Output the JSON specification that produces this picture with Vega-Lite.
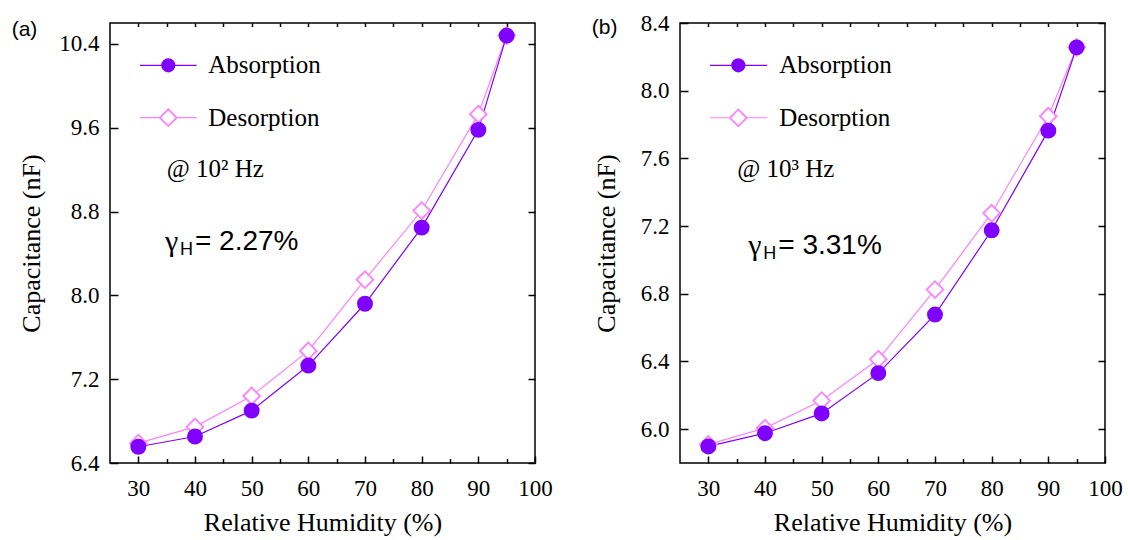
{
  "$schema": "https://vega.github.io/schema/vega-lite/v6.json",
  "background": "white",
  "padding": {"left": 10, "top": 11, "right": 5, "bottom": 5},
  "bounds": "flush",
  "spacing": 145,
  "config": {
    "view": {"stroke": "black", "strokeWidth": 1.5}
  },
  "datasets": {
    "a": [
      {"series": "Desorption", "rh": 30, "c": 6.59},
      {"series": "Desorption", "rh": 40, "c": 6.745},
      {"series": "Desorption", "rh": 50, "c": 7.04},
      {"series": "Desorption", "rh": 60, "c": 7.47},
      {"series": "Desorption", "rh": 70, "c": 8.15},
      {"series": "Desorption", "rh": 80, "c": 8.81},
      {"series": "Desorption", "rh": 90, "c": 9.73},
      {"series": "Desorption", "rh": 95, "c": 10.48},
      {"series": "Absorption", "rh": 30, "c": 6.555},
      {"series": "Absorption", "rh": 40, "c": 6.653},
      {"series": "Absorption", "rh": 50, "c": 6.9},
      {"series": "Absorption", "rh": 60, "c": 7.33},
      {"series": "Absorption", "rh": 70, "c": 7.92},
      {"series": "Absorption", "rh": 80, "c": 8.647},
      {"series": "Absorption", "rh": 90, "c": 9.58},
      {"series": "Absorption", "rh": 95, "c": 10.48}
    ],
    "b": [
      {"series": "Desorption", "rh": 30, "c": 5.91},
      {"series": "Desorption", "rh": 40, "c": 6.006},
      {"series": "Desorption", "rh": 50, "c": 6.169},
      {"series": "Desorption", "rh": 60, "c": 6.413},
      {"series": "Desorption", "rh": 70, "c": 6.825},
      {"series": "Desorption", "rh": 80, "c": 7.276},
      {"series": "Desorption", "rh": 90, "c": 7.849},
      {"series": "Desorption", "rh": 95, "c": 8.256},
      {"series": "Absorption", "rh": 30, "c": 5.898},
      {"series": "Absorption", "rh": 40, "c": 5.976},
      {"series": "Absorption", "rh": 50, "c": 6.093},
      {"series": "Absorption", "rh": 60, "c": 6.331},
      {"series": "Absorption", "rh": 70, "c": 6.677},
      {"series": "Absorption", "rh": 80, "c": 7.175},
      {"series": "Absorption", "rh": 90, "c": 7.764},
      {"series": "Absorption", "rh": 95, "c": 8.256}
    ]
  },
  "hconcat": [
    {
      "width": 425,
      "height": 440,
      "data": {"name": "a"},
      "resolve": {"axis": {"x": "independent", "y": "independent"}},
      "layer": [
        {
          "mark": {"type": "line", "strokeWidth": 1.2},
          "encoding": {
            "x": {"field": "rh", "type": "quantitative", "scale": {"domain": [25, 100], "nice": false, "zero": false},
              "axis": {"orient": "bottom", "values": [30, 40, 50, 60, 70, 80, 90, 100], "domain": false, "grid": false, "tickSize": -7, "tickWidth": 1.5, "tickColor": "black", "labelPadding": 21, "labelFont": "serif", "labelFontSize": 23, "labelColor": "black", "labelFlush": false, "labelOverlap": false, "title": "Relative Humidity (%)", "titleFont": "serif", "titleFontSize": 26, "titleFontWeight": "normal", "titleColor": "black", "titlePadding": 9}},
            "y": {"field": "c", "type": "quantitative", "scale": {"domain": [6.4, 10.6], "nice": false, "zero": false},
              "axis": {"orient": "left", "values": [6.4, 7.2, 8.0, 8.8, 9.6, 10.4], "format": ".1f", "domain": false, "grid": false, "tickSize": -8, "tickWidth": 1.5, "tickColor": "black", "labelPadding": 19, "labelFont": "serif", "labelFontSize": 23, "labelColor": "black", "labelFlush": false, "labelOverlap": false, "title": "Capacitance (nF)", "titleFont": "serif", "titleFontSize": 26, "titleFontWeight": "normal", "titleColor": "black", "titlePadding": 14}},
            "color": {"field": "series", "type": "nominal", "scale": {"domain": ["Absorption", "Desorption"], "range": ["#8000ff", "#ff80ff"]}, "legend": null}
          }
        },
        {
          "mark": {"type": "point", "strokeWidth": 1.8, "opacity": 1},
          "encoding": {
            "x": {"field": "rh", "type": "quantitative", "axis": {"orient": "bottom", "values": [35, 45, 55, 65, 75, 85, 95], "domain": false, "grid": false, "tickSize": -4.5, "tickWidth": 1.5, "tickColor": "black", "labels": false, "title": null}},
            "y": {"field": "c", "type": "quantitative", "axis": {"orient": "right", "values": [6.4, 7.2, 8.0, 8.8, 9.6, 10.4], "domain": false, "grid": false, "tickSize": -7, "tickWidth": 1.5, "tickColor": "black", "labels": false, "title": null}},
            "shape": {"field": "series", "type": "nominal", "scale": {"domain": ["Absorption", "Desorption"], "range": ["circle", "diamond"]}, "legend": null},
            "fill": {"field": "series", "type": "nominal", "scale": {"domain": ["Absorption", "Desorption"], "range": ["#8000ff", "#ffffff"]}, "legend": null},
            "stroke": {"field": "series", "type": "nominal", "scale": {"domain": ["Absorption", "Desorption"], "range": ["#8000ff", "#ff80ff"]}, "legend": null},
            "size": {"field": "series", "type": "nominal", "scale": {"domain": ["Absorption", "Desorption"], "range": [200, 280]}, "legend": null}
          }
        },
        {
          "data": {"values": [{}]},
          "mark": {"type": "rule", "color": "#8000ff", "strokeWidth": 1.2},
          "encoding": {
            "x": {"datum": 30.29, "type": "quantitative", "axis": {"orient": "top", "values": [30, 35, 40, 45, 50, 55, 60, 65, 70, 75, 80, 85, 90, 95], "domain": false, "grid": false, "tickSize": -3.5, "tickWidth": 1.5, "tickColor": "black", "labels": false, "title": null}},
            "x2": {"datum": 40.3},
            "y": {"datum": 10.196, "type": "quantitative", "axis": null}
          }
        },
        {
          "data": {"values": [{}]},
          "mark": {"type": "rule", "color": "#ff80ff", "strokeWidth": 1.2},
          "encoding": {
            "x": {"datum": 30.29, "type": "quantitative", "axis": null},
            "x2": {"datum": 40.3},
            "y": {"datum": 9.696, "type": "quantitative", "axis": null}
          }
        },
        {
          "data": {"values": [{}]},
          "mark": {"type": "point", "shape": "circle", "filled": true, "color": "#8000ff", "size": 200, "opacity": 1},
          "encoding": {
            "x": {"datum": 35.29, "type": "quantitative", "axis": null},
            "y": {"datum": 10.196, "type": "quantitative", "axis": null}
          }
        },
        {
          "data": {"values": [{}]},
          "mark": {"type": "point", "shape": "diamond", "fill": "#ffffff", "stroke": "#ff80ff", "strokeWidth": 1.8, "size": 280, "opacity": 1},
          "encoding": {
            "x": {"datum": 35.29, "type": "quantitative", "axis": null},
            "y": {"datum": 9.696, "type": "quantitative", "axis": null}
          }
        },
        {
          "data": {"values": [{}]},
          "mark": {"type": "text", "align": "left", "baseline": "middle", "font": "serif", "fontSize": 25, "color": "black"},
          "encoding": {
            "x": {"datum": 42.35, "type": "quantitative", "axis": null},
            "y": {"datum": 10.196, "type": "quantitative", "axis": null},
            "text": {"value": "Absorption"}
          }
        },
        {
          "data": {"values": [{}]},
          "mark": {"type": "text", "align": "left", "baseline": "middle", "font": "serif", "fontSize": 25, "color": "black"},
          "encoding": {
            "x": {"datum": 42.35, "type": "quantitative", "axis": null},
            "y": {"datum": 9.696, "type": "quantitative", "axis": null},
            "text": {"value": "Desorption"}
          }
        },
        {
          "data": {"values": [{}]},
          "mark": {"type": "text", "align": "left", "baseline": "middle", "font": "serif", "fontSize": 25, "color": "black"},
          "encoding": {
            "x": {"datum": 35.0, "type": "quantitative", "axis": null},
            "y": {"datum": 9.203, "type": "quantitative", "axis": null},
            "text": {"value": "@ 10² Hz"}
          }
        },
        {
          "data": {"values": [{}]},
          "mark": {"type": "text", "align": "left", "baseline": "middle", "font": "serif", "fontSize": 30, "color": "black"},
          "encoding": {
            "x": {"datum": 34.7, "type": "quantitative", "axis": null},
            "y": {"datum": 8.512, "type": "quantitative", "axis": null},
            "text": {"value": "γ"}
          }
        },
        {
          "data": {"values": [{}]},
          "mark": {"type": "text", "align": "left", "baseline": "middle", "font": "Liberation Sans", "fontSize": 18, "color": "black", "dx": 15, "dy": 8},
          "encoding": {
            "x": {"datum": 34.7, "type": "quantitative", "axis": null},
            "y": {"datum": 8.512, "type": "quantitative", "axis": null},
            "text": {"value": "H"}
          }
        },
        {
          "data": {"values": [{}]},
          "mark": {"type": "text", "align": "left", "baseline": "middle", "font": "Liberation Sans", "fontSize": 28, "color": "black", "dx": 30},
          "encoding": {
            "x": {"datum": 34.7, "type": "quantitative", "axis": null},
            "y": {"datum": 8.512, "type": "quantitative", "axis": null},
            "text": {"value": "= 2.27%"}
          }
        },
        {
          "data": {"values": [{}]},
          "mark": {"type": "text", "align": "left", "baseline": "middle", "font": "Liberation Sans", "fontSize": 21, "color": "black"},
          "encoding": {
            "x": {"datum": 7.65, "type": "quantitative", "axis": null},
            "y": {"datum": 10.533, "type": "quantitative", "axis": null},
            "text": {"value": "(a)"}
          }
        }
      ]
    },
    {
      "width": 425,
      "height": 440,
      "data": {"name": "b"},
      "resolve": {"axis": {"x": "independent", "y": "independent"}},
      "layer": [
        {
          "mark": {"type": "line", "strokeWidth": 1.2},
          "encoding": {
            "x": {"field": "rh", "type": "quantitative", "scale": {"domain": [25, 100], "nice": false, "zero": false},
              "axis": {"orient": "bottom", "values": [30, 40, 50, 60, 70, 80, 90, 100], "domain": false, "grid": false, "tickSize": -7, "tickWidth": 1.5, "tickColor": "black", "labelPadding": 21, "labelFont": "serif", "labelFontSize": 23, "labelColor": "black", "labelFlush": false, "labelOverlap": false, "title": "Relative Humidity (%)", "titleFont": "serif", "titleFontSize": 26, "titleFontWeight": "normal", "titleColor": "black", "titlePadding": 9}},
            "y": {"field": "c", "type": "quantitative", "scale": {"domain": [5.8, 8.4], "nice": false, "zero": false},
              "axis": {"orient": "left", "values": [6.0, 6.4, 6.8, 7.2, 7.6, 8.0, 8.4], "format": ".1f", "domain": false, "grid": false, "tickSize": -8, "tickWidth": 1.5, "tickColor": "black", "labelPadding": 19, "labelFont": "serif", "labelFontSize": 23, "labelColor": "black", "labelFlush": false, "labelOverlap": false, "title": "Capacitance (nF)", "titleFont": "serif", "titleFontSize": 26, "titleFontWeight": "normal", "titleColor": "black", "titlePadding": 21}},
            "color": {"field": "series", "type": "nominal", "scale": {"domain": ["Absorption", "Desorption"], "range": ["#8000ff", "#ff80ff"]}, "legend": null}
          }
        },
        {
          "mark": {"type": "point", "strokeWidth": 1.8, "opacity": 1},
          "encoding": {
            "x": {"field": "rh", "type": "quantitative", "axis": {"orient": "bottom", "values": [35, 45, 55, 65, 75, 85, 95], "domain": false, "grid": false, "tickSize": -4.5, "tickWidth": 1.5, "tickColor": "black", "labels": false, "title": null}},
            "y": {"field": "c", "type": "quantitative", "axis": {"orient": "right", "values": [6.0, 6.4, 6.8, 7.2, 7.6, 8.0, 8.4], "domain": false, "grid": false, "tickSize": -7, "tickWidth": 1.5, "tickColor": "black", "labels": false, "title": null}},
            "shape": {"field": "series", "type": "nominal", "scale": {"domain": ["Absorption", "Desorption"], "range": ["circle", "diamond"]}, "legend": null},
            "fill": {"field": "series", "type": "nominal", "scale": {"domain": ["Absorption", "Desorption"], "range": ["#8000ff", "#ffffff"]}, "legend": null},
            "stroke": {"field": "series", "type": "nominal", "scale": {"domain": ["Absorption", "Desorption"], "range": ["#8000ff", "#ff80ff"]}, "legend": null},
            "size": {"field": "series", "type": "nominal", "scale": {"domain": ["Absorption", "Desorption"], "range": [200, 280]}, "legend": null}
          }
        },
        {
          "data": {"values": [{}]},
          "mark": {"type": "rule", "color": "#8000ff", "strokeWidth": 1.2},
          "encoding": {
            "x": {"datum": 30.29, "type": "quantitative", "axis": {"orient": "top", "values": [30, 35, 40, 45, 50, 55, 60, 65, 70, 75, 80, 85, 90, 95], "domain": false, "grid": false, "tickSize": -3.5, "tickWidth": 1.5, "tickColor": "black", "labels": false, "title": null}},
            "x2": {"datum": 40.4},
            "y": {"datum": 8.15, "type": "quantitative", "axis": null}
          }
        },
        {
          "data": {"values": [{}]},
          "mark": {"type": "rule", "color": "#ff80ff", "strokeWidth": 1.2},
          "encoding": {
            "x": {"datum": 30.29, "type": "quantitative", "axis": null},
            "x2": {"datum": 40.4},
            "y": {"datum": 7.84, "type": "quantitative", "axis": null}
          }
        },
        {
          "data": {"values": [{}]},
          "mark": {"type": "point", "shape": "circle", "filled": true, "color": "#8000ff", "size": 200, "opacity": 1},
          "encoding": {
            "x": {"datum": 35.29, "type": "quantitative", "axis": null},
            "y": {"datum": 8.15, "type": "quantitative", "axis": null}
          }
        },
        {
          "data": {"values": [{}]},
          "mark": {"type": "point", "shape": "diamond", "fill": "#ffffff", "stroke": "#ff80ff", "strokeWidth": 1.8, "size": 280, "opacity": 1},
          "encoding": {
            "x": {"datum": 35.29, "type": "quantitative", "axis": null},
            "y": {"datum": 7.84, "type": "quantitative", "axis": null}
          }
        },
        {
          "data": {"values": [{}]},
          "mark": {"type": "text", "align": "left", "baseline": "middle", "font": "serif", "fontSize": 25, "color": "black"},
          "encoding": {
            "x": {"datum": 42.5, "type": "quantitative", "axis": null},
            "y": {"datum": 8.15, "type": "quantitative", "axis": null},
            "text": {"value": "Absorption"}
          }
        },
        {
          "data": {"values": [{}]},
          "mark": {"type": "text", "align": "left", "baseline": "middle", "font": "serif", "fontSize": 25, "color": "black"},
          "encoding": {
            "x": {"datum": 42.5, "type": "quantitative", "axis": null},
            "y": {"datum": 7.84, "type": "quantitative", "axis": null},
            "text": {"value": "Desorption"}
          }
        },
        {
          "data": {"values": [{}]},
          "mark": {"type": "text", "align": "left", "baseline": "middle", "font": "serif", "fontSize": 25, "color": "black"},
          "encoding": {
            "x": {"datum": 35.1, "type": "quantitative", "axis": null},
            "y": {"datum": 7.535, "type": "quantitative", "axis": null},
            "text": {"value": "@ 10³ Hz"}
          }
        },
        {
          "data": {"values": [{}]},
          "mark": {"type": "text", "align": "left", "baseline": "middle", "font": "serif", "fontSize": 30, "color": "black"},
          "encoding": {
            "x": {"datum": 37.05, "type": "quantitative", "axis": null},
            "y": {"datum": 7.08, "type": "quantitative", "axis": null},
            "text": {"value": "γ"}
          }
        },
        {
          "data": {"values": [{}]},
          "mark": {"type": "text", "align": "left", "baseline": "middle", "font": "Liberation Sans", "fontSize": 18, "color": "black", "dx": 15, "dy": 8},
          "encoding": {
            "x": {"datum": 37.05, "type": "quantitative", "axis": null},
            "y": {"datum": 7.08, "type": "quantitative", "axis": null},
            "text": {"value": "H"}
          }
        },
        {
          "data": {"values": [{}]},
          "mark": {"type": "text", "align": "left", "baseline": "middle", "font": "Liberation Sans", "fontSize": 28, "color": "black", "dx": 30},
          "encoding": {
            "x": {"datum": 37.05, "type": "quantitative", "axis": null},
            "y": {"datum": 7.08, "type": "quantitative", "axis": null},
            "text": {"value": "= 3.31%"}
          }
        },
        {
          "data": {"values": [{}]},
          "mark": {"type": "text", "align": "left", "baseline": "middle", "font": "Liberation Sans", "fontSize": 21, "color": "black"},
          "encoding": {
            "x": {"datum": 9.42, "type": "quantitative", "axis": null},
            "y": {"datum": 8.37, "type": "quantitative", "axis": null},
            "text": {"value": "(b)"}
          }
        }
      ]
    }
  ]
}
